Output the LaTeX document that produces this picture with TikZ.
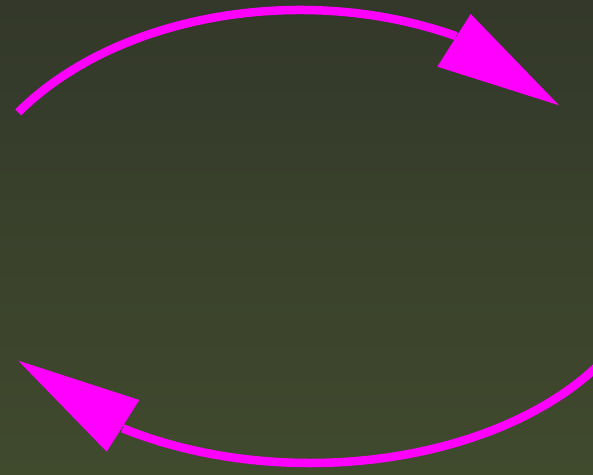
\documentclass[tikz,border=0pt]{standalone}
\definecolor{bgtop}{RGB}{51,56,42}
\definecolor{bgbot}{RGB}{64,74,45}
\definecolor{mag}{RGB}{255,0,255}
\begin{document}
\begin{tikzpicture}[x=1pt,y=1pt,
  arcline/.style={draw=mag,line width=8.5pt,line cap=butt},
  headtri/.style={fill=mag}]
\useasboundingbox (0,0) rectangle (593,474);
\shade[top color=bgtop,bottom color=bgbot] (0,0) rectangle (593,474);
\begin{scope}
\clip (0,0) rectangle (593,474);
% top arc
\draw[arcline] (300,224) ++(145:344 and 240) arc[start angle=145,end angle=63,x radius=344,y radius=240];
\fill[headtri] (470.7,460) -- (437.3,407.3) -- (559,368.7) -- cycle;
% bottom arc
\draw[arcline] (310,226) ++(-28:344 and 215) arc[start angle=-28,end angle=-123,x radius=344,y radius=215];
\fill[headtri] (18.3,113.3) -- (139.3,74) -- (106.7,22.3) -- cycle;
\end{scope}
\end{tikzpicture}
\end{document}
